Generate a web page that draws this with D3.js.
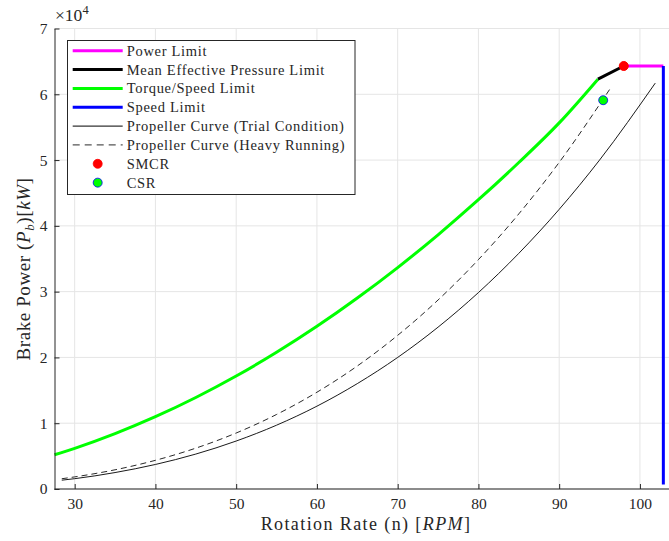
<!DOCTYPE html>
<html>
<head>
<meta charset="utf-8">
<script src="https://cdn.jsdelivr.net/npm/d3@7"></script>
<style>
  body { margin: 0; background: #fff; }
  svg { display: block; }
  text { font-family: "Liberation Serif", "DejaVu Serif", serif; fill: #262626; }
</style>
</head>
<body>
<svg id="chart" width="669" height="541"></svg>
<script>
// Torque / speed limit (green)
var torqueN = [27.5, 30, 35, 40, 45, 50, 55, 60, 65, 70, 75, 80, 85, 90, 94.8]
var torqueP = [5200, 6180, 8420, 10990, 13910, 17170, 20780, 24730, 29030, 33660, 38640, 43970, 49630, 55650, 62300]
// Mean effective pressure limit (black, thick)
var mepN = [94.8, 98]
var mepP = [62300, 64300]
// Power limit (magenta)
var powerN = [98, 102.9]
var powerP = [64300, 64300]
// Speed limit (blue)
var speedN = [102.9, 102.9]
var speedP = [64300, 700]
// Propeller curve, trial condition
var trialN = [28.4, 30, 35, 40, 45, 50, 55, 60, 65, 70, 75, 80, 85, 90, 95, 101.9]
var trialP = [1340, 1570, 2500, 3730, 5310, 7290, 9700, 12590, 16020, 20000, 24600, 29860, 35820, 42510, 50000, 61700]
// Propeller curve, heavy running
var heavyN = [28.4, 30, 35, 40, 45, 50, 55, 60, 65, 70, 75, 80, 85, 90, 96.5]
var heavyP = [1560, 1840, 2920, 4360, 6210, 8510, 11330, 14710, 18700, 23360, 28730, 34870, 41820, 49650, 61200]
// Operating points
var smcr = { n: 98, p: 64300 }
var csr = { n: 95.45, p: 59100 }

var xTicks = [30, 40, 50, 60, 70, 80, 90, 100]
var yTicks = [0, 1, 2, 3, 4, 5, 6, 7]

var legendItems = [
    { label: 'Power Limit', kind: 'line', color: '#ff00ff', width: 3 },
    { label: 'Mean Effective Pressure Limit', kind: 'line', color: '#000', width: 3 },
    { label: 'Torque/Speed Limit', kind: 'line', color: '#00ff00', width: 3 },
    { label: 'Speed Limit', kind: 'line', color: '#0000ff', width: 3 },
    { label: 'Propeller Curve (Trial Condition)', kind: 'line', color: '#000', width: 1 },
    { label: 'Propeller Curve (Heavy Running)', kind: 'dash', color: '#555', width: 1.3 },
    { label: 'SMCR', kind: 'dot', color: '#ff0000', stroke: '#ff0000' },
    { label: 'CSR', kind: 'dot', color: '#00ff00', stroke: '#0000ff' }
]

var svg = d3.select('#chart')
var x = d3.scaleLinear().domain([27.5, 103.6]).range([54.5, 669])
var y = d3.scaleLinear().domain([0, 70000]).range([489, 28.5])

// grid
svg.append('g').selectAll('line').data(xTicks).enter().append('line')
    .attr('x1', function(d) { return x(d) }).attr('x2', function(d) { return x(d) })
    .attr('y1', y(0)).attr('y2', y(70000))
    .attr('stroke', '#e5e5e5').attr('stroke-width', 1)
svg.append('g').selectAll('line').data(yTicks).enter().append('line')
    .attr('x1', x(27.5)).attr('x2', 669)
    .attr('y1', function(d) { return y(d * 1e4) }).attr('y2', function(d) { return y(d * 1e4) })
    .attr('stroke', '#e5e5e5').attr('stroke-width', 1)

var pairs = function(ns, ps) { return ns.map(function(n, i) { return [n, ps[i]] }) }
var line = d3.line().x(function(d) { return x(d[0]) }).y(function(d) { return y(d[1]) })
var smooth = d3.line().curve(d3.curveMonotoneX).x(function(d) { return x(d[0]) }).y(function(d) { return y(d[1]) })

var plot = svg.append('g')
plot.append('path').datum(pairs(trialN, trialP)).attr('d', smooth)
    .attr('fill', 'none').attr('stroke', '#000').attr('stroke-width', 0.9)
plot.append('path').datum(pairs(heavyN, heavyP)).attr('d', smooth)
    .attr('fill', 'none').attr('stroke', '#111').attr('stroke-width', 0.9)
    .attr('stroke-dasharray', '6,4')
plot.append('path').datum(pairs(torqueN, torqueP)).attr('d', smooth)
    .attr('fill', 'none').attr('stroke', '#00ff00').attr('stroke-width', 3)
plot.append('path').datum(pairs(mepN, mepP)).attr('d', line)
    .attr('fill', 'none').attr('stroke', '#000').attr('stroke-width', 3)
plot.append('path').datum(pairs(powerN, powerP)).attr('d', line)
    .attr('fill', 'none').attr('stroke', '#ff00ff').attr('stroke-width', 3)
plot.append('path').datum(pairs(speedN, speedP)).attr('d', line)
    .attr('fill', 'none').attr('stroke', '#0000ff').attr('stroke-width', 3)
plot.append('circle').attr('cx', x(smcr.n)).attr('cy', y(smcr.p)).attr('r', 4.5)
    .attr('fill', '#ff0000').attr('stroke', '#ff0000')
plot.append('circle').attr('cx', x(csr.n)).attr('cy', y(csr.p)).attr('r', 4.5)
    .attr('fill', '#00ff00').attr('stroke', '#0000ff').attr('stroke-width', 0.8)

// axes (MATLAB style ticks pointing in)
var xAxis = svg.append('g').attr('transform', 'translate(0,' + y(0) + ')')
    .call(d3.axisBottom(x).tickValues(xTicks).tickSizeInner(-5).tickSizeOuter(0).tickPadding(9))
var yAxis = svg.append('g').attr('transform', 'translate(' + x(27.5) + ',0)')
    .call(d3.axisLeft(y).tickValues(yTicks.map(function(d) { return d * 1e4 }))
        .tickFormat(function(d) { return d / 1e4 }).tickSizeInner(-5).tickSizeOuter(0).tickPadding(7))
;[xAxis, yAxis].forEach(function(a) {
    a.select('.domain').attr('stroke', '#262626').attr('stroke-width', 1)
    a.selectAll('.tick line').attr('stroke', '#262626')
    a.selectAll('.tick text').style('font-size', '15.5px').attr('fill', '#262626')
})
xAxis.select('.domain').attr('d', 'M' + x(27.5) + ',0H669')

// exponent label
var ex = svg.append('text').attr('x', 55).attr('y', 21).style('font-size', '17.5px')
ex.append('tspan').text('\u00d710')
ex.append('tspan').attr('dy', -7).style('font-size', '12.5px').text('4')

// axis labels
var xl = svg.append('text').attr('x', 366).attr('y', 530).attr('text-anchor', 'middle')
    .style('font-size', '18px').style('letter-spacing', '1.4px')
xl.append('tspan').text('Rotation Rate (n) [')
xl.append('tspan').style('font-style', 'italic').text('RPM')
xl.append('tspan').text(']')

var yl = svg.append('text').attr('transform', 'translate(30,269) rotate(-90)')
    .attr('text-anchor', 'middle').style('font-size', '19px').style('letter-spacing', '0.6px')
yl.append('tspan').text('Brake Power (')
yl.append('tspan').style('font-style', 'italic').text('P')
yl.append('tspan').style('font-style', 'italic').style('font-size', '13px').attr('dy', 4).text('b')
yl.append('tspan').attr('dy', -4).text(')[')
yl.append('tspan').style('font-style', 'italic').text('kW')
yl.append('tspan').text(']')

// legend
var lg = svg.append('g')
lg.append('rect').attr('x', 67.5).attr('y', 40.5).attr('width', 287.5).attr('height', 154)
    .attr('fill', '#fff').attr('stroke', '#262626').attr('stroke-width', 1)
var rows = lg.selectAll('g.item').data(legendItems).enter().append('g')
    .attr('class', 'item')
    .attr('transform', function(d, i) { return 'translate(0,' + (50.7 + i * 18.85) + ')' })
rows.each(function(d) {
    var g = d3.select(this)
    if (d.kind == 'dot')
        g.append('circle').attr('cx', 97.7).attr('cy', 0).attr('r', 4.5)
            .attr('fill', d.color).attr('stroke', d.stroke).attr('stroke-width', 0.8)
    else
        g.append('line').attr('x1', 72.7).attr('x2', 122.7).attr('y1', 0).attr('y2', 0)
            .attr('stroke', d.color).attr('stroke-width', d.width)
            .attr('stroke-dasharray', d.kind == 'dash' ? '7,5' : null)
})
rows.append('text').attr('x', 126.7).attr('y', 5).style('font-size', '14.5px').style('letter-spacing', '0.7px')
    .text(function(d) { return d.label })
</script>
</body>
</html>
